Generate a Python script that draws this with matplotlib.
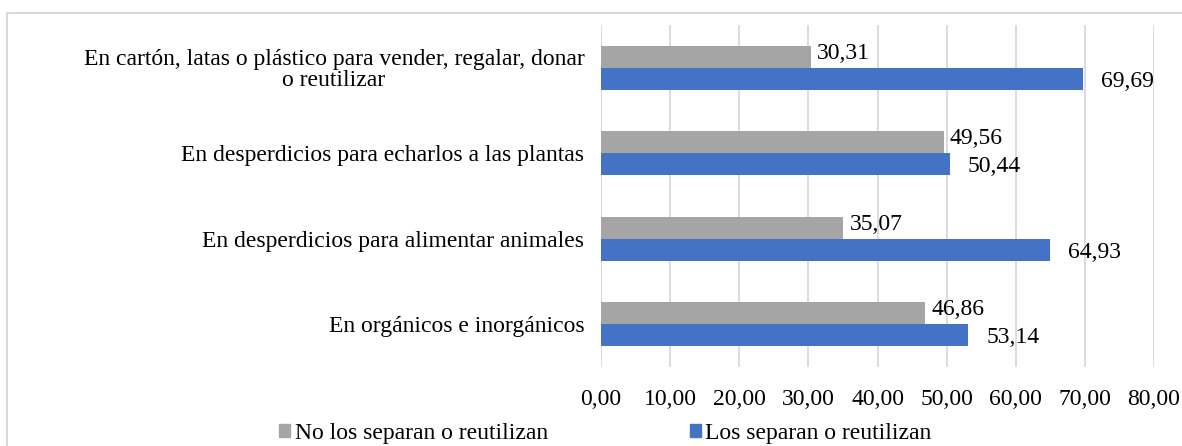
import numpy as np
import matplotlib.pyplot as plt
from matplotlib.patches import Rectangle, Patch
from matplotlib.ticker import FuncFormatter

# datos
categorias = ['En cartón, latas o plástico para vender, regalar, donar\no reutilizar',
              'En desperdicios para echarlos a las plantas',
              'En desperdicios para alimentar animales',
              'En orgánicos e inorgánicos']
no_separan = [30.31, 49.56, 35.07, 46.86]
si_separan = [69.69, 50.44, 64.93, 53.14]
xticks = [0, 10, 20, 30, 40, 50, 60, 70, 80]

plt.rcParams['font.family'] = ['Liberation Serif', 'DejaVu Serif']
fs = 17

fig = plt.figure(figsize=(11.82, 4.46), dpi=100)
# marco del grafico
fig.patches.append(Rectangle((7 / 1182, -0.1), 1.2, 1.1 - 13 / 446, transform=fig.transFigure,
                             fill=False, edgecolor='#d9d9d9', linewidth=1.5))
ax = fig.add_axes([601 / 1182, 1 - 367 / 446, 553 / 1182, 342 / 446])

y = np.arange(len(categorias))
h = 0.257
gris = '#a5a5a5'
azul = '#4472c4'
ax.barh(y - h / 2, no_separan, height=h, color=gris, zorder=2)
ax.barh(y + h / 2, si_separan, height=h, color=azul, zorder=2)

def coma(v, pos=None):
    return f'{v:.2f}'.replace('.', ',')

for yi, v in zip(y, no_separan):
    ax.text(v + 0.9, yi - h / 2 - 0.04, coma(v), va='center', ha='left', fontsize=fs)
for yi, v in zip(y, si_separan):
    ax.text(v + 2.6, yi + h / 2 + 0.03, coma(v), va='center', ha='left', fontsize=fs)

ax.set_xlim(0, 80)
ax.set_ylim(3.5, -0.5)
ax.set_xticks(xticks)
ax.xaxis.set_major_formatter(FuncFormatter(coma))
ax.set_yticks(y)
ax.set_yticklabels(categorias, fontsize=fs, ha='right', multialignment='center', linespacing=1.0)
ax.tick_params(axis='y', length=0, pad=12)
ax.tick_params(axis='x', length=0, pad=16, labelsize=fs)
ax.grid(axis='x', color='#d9d9d9', linewidth=1.3, zorder=0)
for s in ax.spines.values():
    s.set_visible(False)

handles = [Patch(color=gris, label='No los separan o reutilizan'),
           Patch(color=azul, label='Los separan o reutilizan')]
fig.legend(handles=handles, loc='center left', bbox_to_anchor=(279 / 1182, 1 - 433 / 446), ncol=2,
           frameon=False, fontsize=fs, handlelength=0.47, handleheight=0.47,
           handletextpad=0.2, columnspacing=6.0, borderpad=0, borderaxespad=0)

fig.savefig('out.png', dpi=100)
